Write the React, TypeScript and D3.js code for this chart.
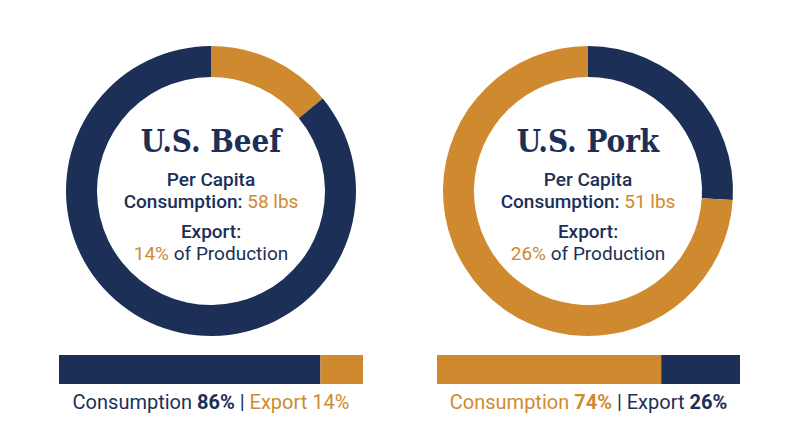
import React from "react";
import * as d3 from "d3";

const meats = ["U.S. Beef", "U.S. Pork"];
const perCapitaLbs = [58, 51];
const exportPct = [14, 26];
const consumptionPct = [86, 74];
const primaryColors = ["#1b2f57", "#cf8a2f"];
const secondaryColors = ["#cf8a2f", "#1b2f57"];

const NAVY = "#1b2f57";
const ORANGE = "#cf8a2f";
const W = 800;
const H = 447;
const centersX = [211, 588];
const cy = 191;
const outerR = 145;
const innerR = 114;
const barY = 355;
const barH = 29;
const barX = [[59, 363], [437, 740]];
const BODY = "Roboto, 'Open Sans', sans-serif";
const TITLE = "'DejaVu Serif Condensed', 'DejaVu Serif', serif";

export default function App() {
  const arc = d3.arc<d3.PieArcDatum<number>>().innerRadius(innerR).outerRadius(outerR);
  const pie = d3.pie<number>().sort(null).value((d) => d);

  return (
    <svg width={W} height={H} style={{ position: "absolute", left: 0, top: 0, background: "#fff" }}>
      <rect width={W} height={H} fill="#fff" />
      {meats.map((name, i) => {
        const cx = centersX[i];
        const arcs = pie([exportPct[i], consumptionPct[i]]);
        const sliceColors = [secondaryColors[i], primaryColors[i]];
        const x = d3.scaleLinear().domain([0, 100]).range(barX[i]);
        const consColor = primaryColors[i];
        const expColor = secondaryColors[i];
        return (
          <g key={name}>
            <g transform={`translate(${cx},${cy})`}>
              {arcs.map((a, j) => (
                <path key={j} d={arc(a) || ""} fill={sliceColors[j]} />
              ))}
              <text y={-39} textAnchor="middle" fontFamily={TITLE} fontWeight="bold" fontSize={31} fill={NAVY}>
                {name}
              </text>
              <text y={-5} textAnchor="middle" fontFamily={BODY} fontWeight={500} fontSize={19} fill={NAVY}>
                Per Capita
              </text>
              <text y={17} textAnchor="middle" fontFamily={BODY} fontSize={19} fill={NAVY}>
                <tspan fontWeight={500}>Consumption: </tspan>
                <tspan fill={ORANGE}>{perCapitaLbs[i]} lbs</tspan>
              </text>
              <text y={47} textAnchor="middle" fontFamily={BODY} fontWeight={500} fontSize={19} fill={NAVY}>
                Export:
              </text>
              <text y={69} textAnchor="middle" fontFamily={BODY} fontSize={19} fill={NAVY}>
                <tspan fill={ORANGE}>{exportPct[i]}%</tspan>
                <tspan> of Production</tspan>
              </text>
            </g>
            <rect x={x(0)} y={barY} width={x(consumptionPct[i]) - x(0)} height={barH} fill={consColor} />
            <rect x={x(consumptionPct[i])} y={barY} width={x(100) - x(consumptionPct[i])} height={barH} fill={expColor} />
            <text x={(barX[i][0] + barX[i][1]) / 2} y={409} textAnchor="middle" fontFamily={BODY} fontSize={20}>
              <tspan fill={consColor}>Consumption </tspan>
              <tspan fill={consColor} fontWeight="bold">{consumptionPct[i]}%</tspan>
              <tspan fill={NAVY}> | </tspan>
              <tspan fill={expColor}>Export </tspan>
              <tspan fill={expColor} fontWeight={i === 1 ? "bold" : "normal"}>{exportPct[i]}%</tspan>
            </text>
          </g>
        );
      })}
    </svg>
  );
}
